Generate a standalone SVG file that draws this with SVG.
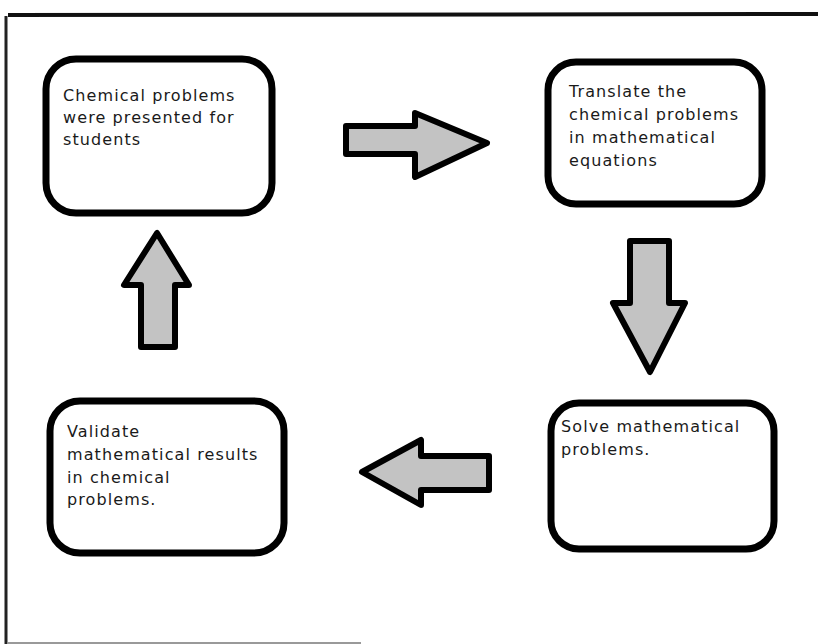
<svg xmlns="http://www.w3.org/2000/svg" width="818" height="644" viewBox="0 0 818 644">
<style>
.box{fill:#fff;stroke:#000;stroke-width:7}
.arr{fill:#c3c3c3;stroke:#000;stroke-width:6;stroke-linejoin:round}
.t{font-family:"DejaVu Sans","Noto Sans",sans-serif;font-size:16px;letter-spacing:1.1px;fill:#1a1a1a}
</style>
<rect width="818" height="644" fill="#fff"/>
<g id="frame">
<path d="M8,15 L818,14" stroke="#111" stroke-width="4" fill="none"/>
<path d="M6,16 L6,644" stroke="#222" stroke-width="3" fill="none"/>
<path d="M8,643 L361,643" stroke="#777" stroke-width="1.5" fill="none"/>
</g>
<g id="connectors">
<path class="arr" d="M346,126 L415,126 L415,113 L487,143 L415,177 L415,154 L346,154 Z"/>
<path class="arr" d="M630,241 L669,241 L669,303 L685,303 L650,372 L613,303 L630,303 Z"/>
<path class="arr" d="M141,347 L175,347 L175,285 L189,285 L157,233 L124,285 L141,285 Z"/>
<path class="arr" d="M489,456 L489,490 L421,490 L421,505 L362,472 L421,440 L421,456 Z"/>
</g>
<g id="n1">
<rect class="box" x="46" y="59" width="226" height="154" rx="30"/>
<text class="t"><tspan x="63" y="101">Chemical problems</tspan><tspan x="63" y="123">were presented for</tspan><tspan x="63" y="145">students</tspan></text>
</g>
<g id="n2">
<rect class="box" x="548" y="62" width="214" height="142" rx="28"/>
<text class="t"><tspan x="569" y="97">Translate the</tspan><tspan x="569" y="120">chemical problems</tspan><tspan x="569" y="143">in mathematical</tspan><tspan x="569" y="166">equations</tspan></text>
</g>
<g id="n3">
<rect class="box" x="551" y="403" width="223" height="146" rx="28"/>
<text class="t"><tspan x="561" y="432">Solve mathematical</tspan><tspan x="561" y="455">problems.</tspan></text>
</g>
<g id="n4">
<rect class="box" x="50" y="401" width="234" height="152" rx="30"/>
<text class="t"><tspan x="67" y="437">Validate</tspan><tspan x="67" y="460">mathematical results</tspan><tspan x="67" y="483">in chemical</tspan><tspan x="67" y="505">problems.</tspan></text>
</g>
</svg>
